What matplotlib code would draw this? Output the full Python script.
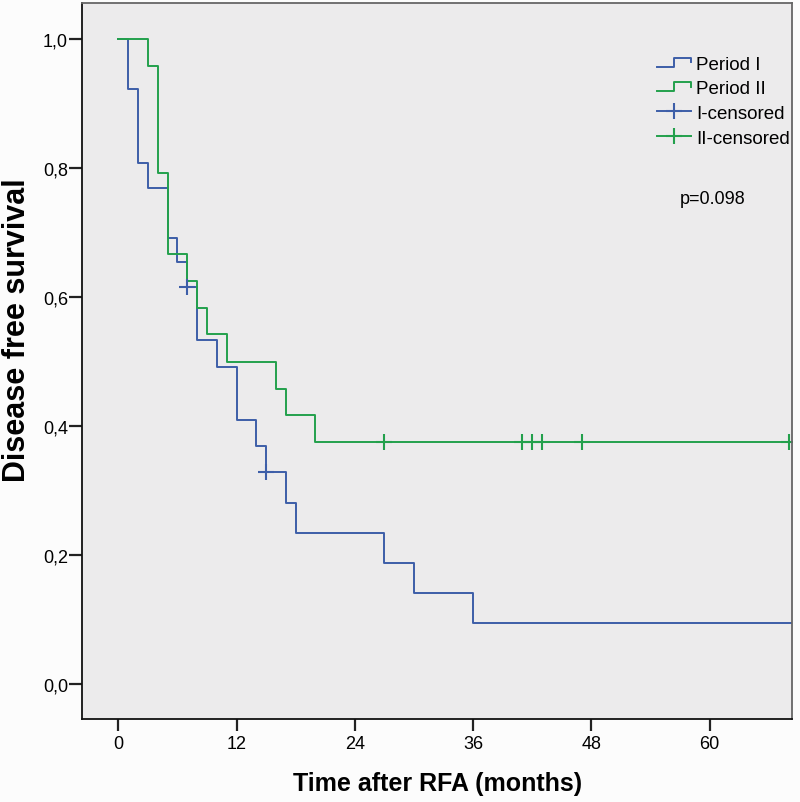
import numpy as np
import matplotlib
matplotlib.use('Agg')
import matplotlib.pyplot as plt
from matplotlib.lines import Line2D
from matplotlib.legend_handler import HandlerBase

# Kaplan-Meier steps
p1_time = [0, 1, 2, 3, 5, 6, 7, 8, 10, 12, 14, 15, 17, 18, 27, 30, 36, 70]
p1_surv = [1.0, 0.923, 0.808, 0.769, 0.692, 0.654, 0.615, 0.533, 0.492,
           0.410, 0.369, 0.328, 0.281, 0.234, 0.188, 0.141, 0.094, 0.094]
p1_cens_t = [7, 15]
p1_cens_s = [0.615, 0.328]

p2_time = [0, 3, 4, 5, 7, 8, 9, 11, 16, 17, 20, 70]
p2_surv = [1.0, 0.958, 0.792, 0.667, 0.625, 0.583, 0.542, 0.500, 0.458,
           0.417, 0.375, 0.375]
p2_cens_t = [27, 41, 42, 43, 47, 68]
p2_cens_s = [0.375, 0.375, 0.375, 0.375, 0.375, 0.375]

labels = ['Period I', 'Period II', 'I-censored', 'II-censored']
p_text = 'p=0.098'
xticks = [0, 12, 24, 36, 48, 60]
yticks = [0.0, 0.2, 0.4, 0.6, 0.8, 1.0]
ytick_labels = ['0,0', '0,2', '0,4', '0,6', '0,8', '1,0']

blue = '#3d5ea8'
green = '#23a04c'

plt.rcParams['font.family'] = ['Liberation Sans', 'DejaVu Sans']


class StepHandler(HandlerBase):
    # legend icon shaped like a little survival step
    def create_artists(self, legend, orig_handle, xdescent, ydescent,
                       width, height, fontsize, trans):
        lo = 0.15 * height - ydescent
        hi = 0.85 * height - ydescent
        xs = [-xdescent, -xdescent + 0.5 * width, -xdescent + 0.5 * width,
              -xdescent + width, -xdescent + width]
        ys = [lo, lo, hi, hi, hi - 0.35 * height]
        ln = Line2D(xs, ys, color=orig_handle.get_color(), lw=1.4,
                    transform=trans)
        return [ln]


fig = plt.figure(figsize=(8, 8.03), dpi=100)
fig.patch.set_facecolor('#fcfcfc')
ax = fig.add_axes([0.1029, 0.1034, 0.8877, 0.8912])
ax.set_facecolor('#ecebec')

l1, = ax.step(p1_time, p1_surv, where='post', color=blue, lw=1.4)
l2, = ax.step(p2_time, p2_surv, where='post', color=green, lw=1.4)
c1, = ax.plot(p1_cens_t, p1_cens_s, ls='none', marker='+', ms=11,
              mew=1.5, color=blue)
c2, = ax.plot(p2_cens_t, p2_cens_s, ls='none', marker='+', ms=11,
              mew=1.5, color=green)

ax.set_xlim(-3.65, 68.4)
ax.set_ylim(-0.0543, 1.0554)
ax.set_xticks(xticks)
ax.set_xticklabels([str(t) for t in xticks])
ax.set_yticks(yticks)
ax.set_yticklabels(ytick_labels)
ax.tick_params(axis='x', length=8.4, width=1.6, labelsize=13, pad=3,
               color='#222222')
ax.tick_params(axis='y', length=9.4, width=1.6, labelsize=13, pad=1,
               color='#222222')

for side in ['left', 'bottom']:
    ax.spines[side].set_linewidth(1.3)
    ax.spines[side].set_color('#111111')
for side in ['top', 'right']:
    ax.spines[side].set_linewidth(1.3)
    ax.spines[side].set_color('#666666')

ax.set_xlabel('Time after RFA (months)', fontsize=18, fontweight='bold',
              labelpad=14)
ax.set_ylabel('Disease free survival', fontsize=22, fontweight='bold')
ax.yaxis.set_label_coords(-0.0705, 0.545)

c1_leg = Line2D([], [], color=blue, lw=1.4, marker='+', ms=11, mew=1.5)
c2_leg = Line2D([], [], color=green, lw=1.4, marker='+', ms=11, mew=1.5)
leg = ax.legend([l1, l2, c1_leg, c2_leg], labels,
                handler_map={l1: StepHandler(), l2: StepHandler()},
                loc='upper left', bbox_to_anchor=(0.809, 0.927),
                frameon=False, fontsize=13.5, handlelength=1.8,
                handletextpad=0.3, labelspacing=0.4, borderaxespad=0,
                borderpad=0)

ax.text(0.887, 0.727, p_text, transform=ax.transAxes, fontsize=13,
        ha='center', va='center')

fig.savefig('out.png', dpi=100, facecolor=fig.get_facecolor())
